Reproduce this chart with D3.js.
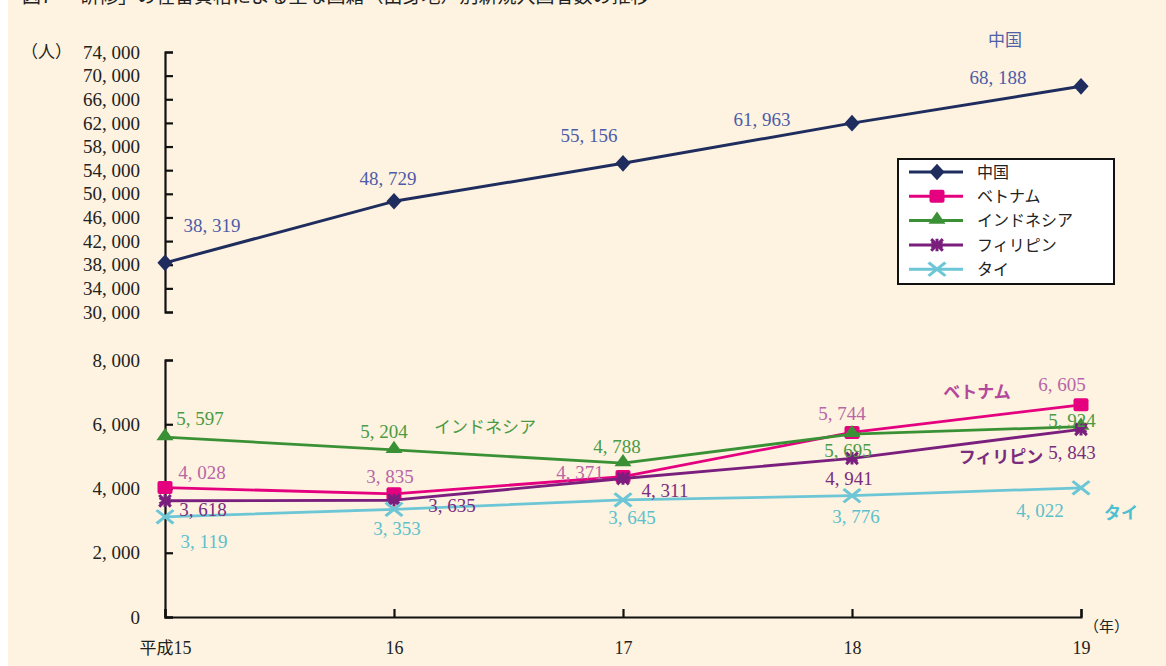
<!DOCTYPE html>
<html><head><meta charset="utf-8">
<script src="https://cdn.jsdelivr.net/npm/d3@7"></script>
<style>
html,body{margin:0;padding:0;background:#fff;}
svg{display:block;}
</style></head>
<body>
<svg id="chart" width="1166" height="666"></svg>
<script>
// ---------- data ----------
const title = "図7　「研修」の在留資格による主な国籍（出身地）別新規入国者数の推移";
const categories = ["平成15", "16", "17", "18", "19"];
const seriesNames = ["中国", "ベトナム", "インドネシア", "フィリピン", "タイ"];
const china       = [38319, 48729, 55156, 61963, 68188];
const vietnam     = [4028, 3835, 4371, 5744, 6605];
const indonesia   = [5597, 5204, 4788, 5695, 5924];
const philippines = [3618, 3635, 4311, 4941, 5843];
const thailand    = [3119, 3353, 3645, 3776, 4022];
const topTicks = [30000, 34000, 38000, 42000, 46000, 50000, 54000, 58000, 62000, 66000, 70000, 74000];
const bottomTicks = [0, 2000, 4000, 6000, 8000];
const yUnit = "（人）";
const xUnit = "（年）";

// ---------- styles / layout (not data) ----------
const colors = {
  "中国": "#1f2d5e", "ベトナム": "#e4007f", "インドネシア": "#3a9135",
  "フィリピン": "#7a1f7e", "タイ": "#6cc6d6"
};
const labelColors = {
  "中国": "#4f5ba8", "ベトナム": "#b866a6", "インドネシア": "#4c9a44",
  "フィリピン": "#7a2c7e", "タイ": "#5cc0cc"
};
// value label offsets (px) relative to each point
const labelOffsets = {
  "中国":        [[47,-37],[-6,-23],[-34,-28],[-90,-4],[-83,-9]],
  "ベトナム":     [[37,-15],[-4,-17],[-43,-4],[-10,-19],[-19,-20]],
  "インドネシア": [[35,-19],[-10,-18],[-6,-17],[-4,16],[-9,-6]],
  "フィリピン":   [[38,9],[58,5],[42,12],[-3,20],[-9,23]],
  "タイ":        [[39,25],[3,19],[9,17],[4,21],[-41,23]]
};

const serif = "'Liberation Serif','Times New Roman',serif";
const jp = "'Noto Sans CJK JP','Noto Sans',sans-serif";

const svg = d3.select("#chart");
// background
svg.append("rect").attr("x",0).attr("y",0).attr("width",1166).attr("height",666).attr("fill","#ffffff");
svg.append("rect").attr("x",8).attr("y",0).attr("width",1158).attr("height",666).attr("fill","#fdf3e0");

// title (cut off at the top edge as in the reference)
svg.append("text").attr("x",22).attr("y",3)
  .attr("font-family", jp).attr("font-size",19).attr("fill","#222")
  .text(title);

const x = d3.scalePoint().domain(categories).range([165, 1081]);
const yTop = d3.scaleLinear().domain([30000, 74000]).range([312, 52]);
const yBot = d3.scaleLinear().domain([0, 8000]).range([617, 360]);

const fmt = v => d3.format(",")(v).replace(",", ", ");

// top y axis
const gTop = svg.append("g").attr("transform","translate(165,0)")
  .call(d3.axisLeft(yTop).tickValues(topTicks).tickSizeInner(-8).tickSizeOuter(-8).tickPadding(25).tickFormat(fmt));
// bottom y axis
const gBot = svg.append("g").attr("transform","translate(165,0)")
  .call(d3.axisLeft(yBot).tickValues(bottomTicks).tickSizeInner(-8).tickSizeOuter(-8).tickPadding(25).tickFormat(fmt));
// x axis
const gX = svg.append("g").attr("transform","translate(0,617)")
  .call(d3.axisBottom(x).tickSizeInner(-8).tickSizeOuter(-8).tickPadding(24));

[gTop, gBot, gX].forEach(g => {
  g.selectAll("path.domain").attr("stroke","#111").attr("stroke-width",2.2);
  g.selectAll(".tick line").attr("stroke","#111").attr("stroke-width",2.2);
  g.selectAll(".tick text").attr("font-family", serif).attr("font-size",19).attr("fill","#222");
});
gX.selectAll(".tick text").attr("font-size",18);
gX.selectAll(".tick text").filter(d => /平成/.test(d))
  .text(null).call(t => {
    t.append("tspan").attr("font-family", jp).attr("font-size",17).text("平成");
    t.append("tspan").attr("font-family", serif).text("15");
  });

// units
svg.append("text").attr("x",72).attr("y",52).attr("dy","0.35em").attr("text-anchor","end")
  .attr("font-family", jp).attr("font-size",17).attr("fill","#222").text(yUnit);
svg.append("text").attr("x",1084).attr("y",627).attr("dy","0.35em")
  .attr("font-family", jp).attr("font-size",15).attr("fill","#222").text(xUnit);

// series
const series = [
  {name:"中国", values: china, y: yTop, marker:"diamond", width:3},
  {name:"ベトナム", values: vietnam, y: yBot, marker:"square", width:2.8},
  {name:"インドネシア", values: indonesia, y: yBot, marker:"triangle", width:2.8},
  {name:"フィリピン", values: philippines, y: yBot, marker:"asterisk", width:2.8},
  {name:"タイ", values: thailand, y: yBot, marker:"x", width:2.8}
];

function drawMarker(g, type, color) {
  if (type === "diamond") {
    g.append("path").attr("d", d3.symbol(d3.symbolDiamond, 110)()).attr("transform","scale(1.35,0.85)").attr("fill", color);
  } else if (type === "square") {
    g.append("rect").attr("x",-7.5).attr("y",-6.5).attr("width",15).attr("height",13).attr("rx",2).attr("fill", color);
  } else if (type === "triangle") {
    g.append("path").attr("d", d3.symbol(d3.symbolTriangle, 95)()).attr("transform","translate(0,-1) scale(1.15,0.95)").attr("fill", color);
  } else if (type === "asterisk") {
    g.append("path").attr("d", d3.symbol(d3.symbolAsterisk, 110)()).attr("fill","none").attr("stroke", color).attr("stroke-width",3);
    g.append("path").attr("d", d3.symbol(d3.symbolTimes, 90)()).attr("fill","none").attr("stroke", color).attr("stroke-width",3);
  } else if (type === "x") {
    g.append("path").attr("d", d3.symbol(d3.symbolTimes, 130)()).attr("transform","scale(1.2,0.95)").attr("fill","none").attr("stroke", color).attr("stroke-width",2.8);
  }
}

const line = (ys) => d3.line().x((d,i) => x(categories[i])).y(d => ys(d));

series.forEach(s => {
  const c = colors[s.name];
  svg.append("path").datum(s.values).attr("d", line(s.y)).attr("fill","none")
    .attr("stroke", c).attr("stroke-width", s.width).attr("stroke-linejoin","round");
  s.values.forEach((v,i) => {
    const g = svg.append("g").attr("transform", `translate(${x(categories[i])},${s.y(v)})`);
    drawMarker(g, s.marker, c);
  });
});
// value labels
series.forEach(s => {
  s.values.forEach((v,i) => {
    const off = labelOffsets[s.name][i];
    svg.append("text").attr("x", x(categories[i]) + off[0]).attr("y", s.y(v) + off[1])
      .attr("dy","0.35em").attr("text-anchor","middle")
      .attr("font-family", serif).attr("font-size",19).attr("fill", labelColors[s.name])
      .text(fmt(v));
  });
});

// series name labels
const nameLabels = [
  {name:"中国", x:1005, y:40, bold:false, color:"#5060a8"},
  {name:"インドネシア", x:485, y:427, bold:false, color:"#4c9a44"},
  {name:"ベトナム", x:977, y:392, bold:true, color:"#b4489a"},
  {name:"フィリピン", x:1001, y:457, bold:true, color:"#7a2c7e"},
  {name:"タイ", x:1121, y:513, bold:true, color:"#4ebfd0"}
];
nameLabels.forEach(d => {
  svg.append("text").attr("x", d.x).attr("y", d.y).attr("dy","0.35em").attr("text-anchor","middle")
    .attr("font-family", jp).attr("font-size",17).attr("font-weight", d.bold ? 700 : 400)
    .attr("fill", d.color).text(d.name);
});

// legend
const lg = svg.append("g").attr("transform","translate(898,159)");
lg.append("rect").attr("width",216).attr("height",125).attr("fill","#ffffff").attr("stroke","#111").attr("stroke-width",2);
series.forEach((s,i) => {
  const yy = 13 + i*24.3;
  const c = colors[s.name];
  lg.append("line").attr("x1",11).attr("x2",65).attr("y1",yy).attr("y2",yy).attr("stroke", c).attr("stroke-width",3);
  const g = lg.append("g").attr("transform", `translate(39,${yy})`);
  drawMarker(g, s.marker, c);
  lg.append("text").attr("x",79).attr("y",yy).attr("dy","0.35em").attr("font-family", jp)
    .attr("font-size",16).attr("fill","#222").text(s.name);
});
</script>
</body></html>
